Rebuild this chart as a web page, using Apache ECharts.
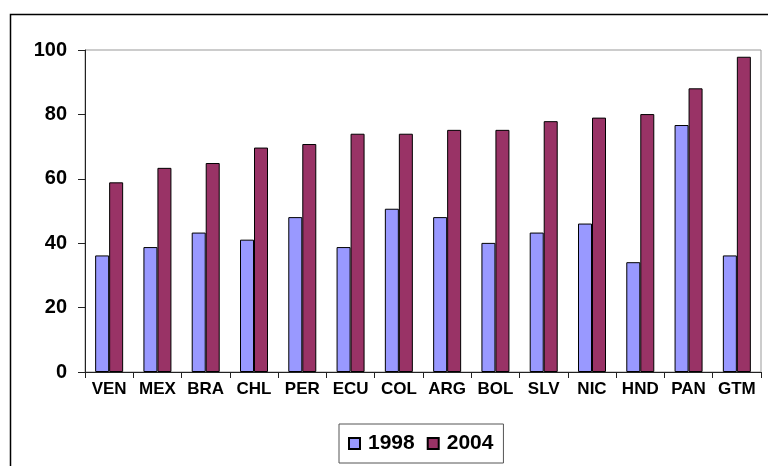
<!DOCTYPE html>
<html>
<head>
<meta charset="utf-8">
<script src="https://cdn.jsdelivr.net/npm/echarts@6/dist/echarts.min.js"></script>
<style>html,body{margin:0;padding:0;background:#fff;}#c{width:768px;height:466px;}</style>
</head>
<body>
<div id="c"></div>
<script>
const categories = ['VEN','MEX','BRA','CHL','PER','ECU','COL','ARG','BOL','SLV','NIC','HND','PAN','GTM'];
const values1998 = [36.2, 38.8, 43.3, 41.1, 48.1, 38.8, 50.7, 48.1, 40.1, 43.3, 46.1, 34.1, 76.7, 36.2];
const values2004 = [58.9, 63.4, 64.9, 69.7, 70.8, 74.0, 74.0, 75.2, 75.2, 77.9, 79.0, 80.1, 88.1, 97.9];
const seriesNames = ['1998', '2004'];

const chart = echarts.init(document.getElementById('c'), null, {renderer: 'canvas'});
const font = '"Liberation Sans", Arial, sans-serif';
chart.setOption({
  animation: false,
  backgroundColor: '#fff',
  graphic: [{
    type: 'rect', left: 8, top: 12, z: -1,
    shape: {width: 800, height: 500},
    style: {fill: 'none', stroke: '#000', lineWidth: 1.5}
  }],
  grid: {left: 85, right: 7, top: 50, bottom: 94, show: true, borderColor: '#999', borderWidth: 1, backgroundColor: 'transparent'},
  legend: {
    data: seriesNames, left: 339, top: 424,
    orient: 'horizontal',
    borderColor: '#555', borderWidth: 1,
    padding: [9, 10, 9, 9],
    itemWidth: 11, itemHeight: 11, itemGap: 12,
    icon: 'rect',
    textStyle: {fontFamily: font, fontWeight: 'bold', fontSize: 21, color: '#000', padding: [0, 0, 0, 3]}
  },
  xAxis: {
    type: 'category', data: categories,
    axisLine: {lineStyle: {color: '#222', width: 1}},
    axisTick: {show: true, length: 6, lineStyle: {color: '#222'}},
    axisLabel: {fontFamily: font, fontWeight: 'bold', fontSize: 17, color: '#000', margin: 9, interval: 0}
  },
  yAxis: {
    type: 'value', min: 0, max: 100, interval: 20,
    axisLine: {show: true, lineStyle: {color: '#222', width: 1}},
    axisTick: {show: true, length: 7, lineStyle: {color: '#222'}},
    splitLine: {show: false},
    axisLabel: {fontFamily: font, fontWeight: 'bold', fontSize: 20, color: '#000', margin: 18}
  },
  series: [
    {name: seriesNames[0], type: 'bar', data: values1998, barWidth: 14, barGap: '0%',
     itemStyle: {color: '#9999FF', borderColor: '#000', borderWidth: 1}},
    {name: seriesNames[1], type: 'bar', data: values2004, barWidth: 14, barGap: '0%',
     itemStyle: {color: '#993366', borderColor: '#000', borderWidth: 1}}
  ]
});
</script>
</body>
</html>
